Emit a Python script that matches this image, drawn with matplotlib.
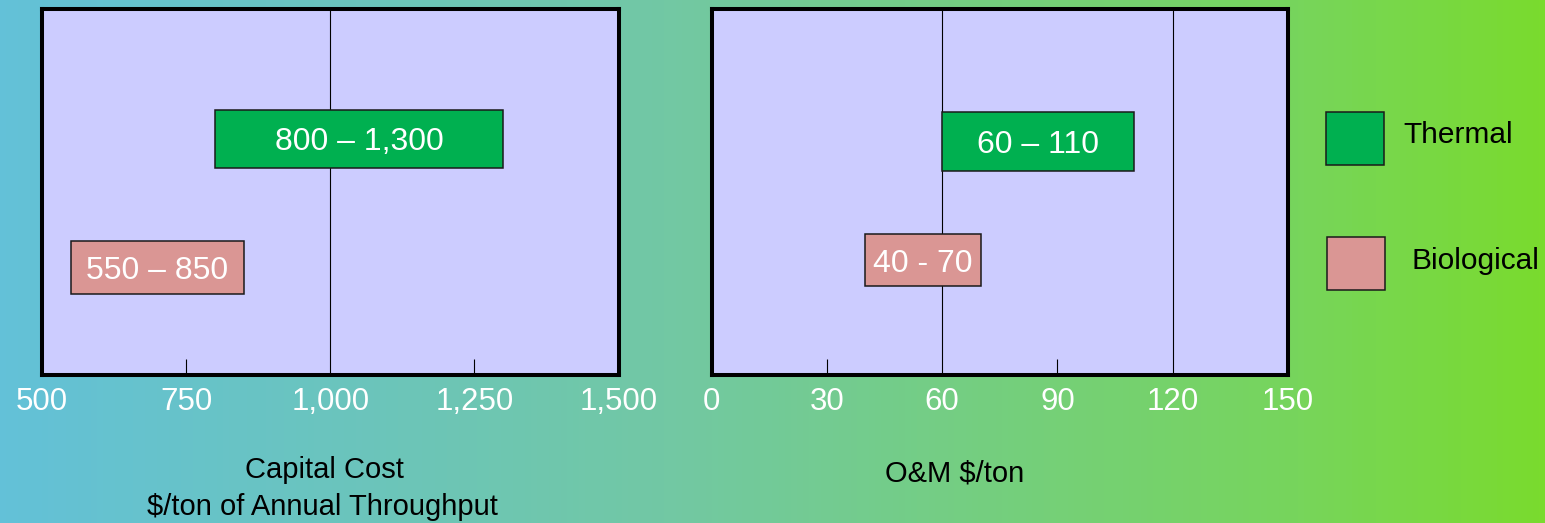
import numpy as np
import matplotlib
matplotlib.use("Agg")
import matplotlib.pyplot as plt
from matplotlib.colors import LinearSegmentedColormap
from matplotlib.patches import Rectangle

plt.rcParams["font.family"] = ["Liberation Sans", "DejaVu Sans"]

# ---- data ----
series = ["Thermal", "Biological"]
capital_low = [800, 550]
capital_high = [1300, 850]
capital_labels = ["800 – 1,300", "550 – 850"]
om_low = [60, 40]
om_high = [110, 70]
om_labels = ["60 – 110", "40 - 70"]

capital_ticks = [500, 750, 1000, 1250, 1500]
capital_ticklabels = ["500", "750", "1,000", "1,250", "1,500"]
om_ticks = [0, 30, 60, 90, 120, 150]
om_ticklabels = ["0", "30", "60", "90", "120", "150"]

capital_gridlines = [1000]
capital_minor = [750, 1250]
om_gridlines = [60, 120]
om_minor = [30, 90]

series_colors = ["#00B050", "#DA9694"]
panel_color = "#CCCCFF"

# ---- figure ----
W, H = 1545, 523
DPI = 100
fig = plt.figure(figsize=(W / DPI, H / DPI), dpi=DPI)


def px_rect(x0, y0, x1, y1):
    """Figure-fraction rectangle from pixel corners (top-left origin)."""
    return [x0 / W, 1 - y1 / H, (x1 - x0) / W, (y1 - y0) / H]


# horizontal gradient backdrop
bg = fig.add_axes([0, 0, 1, 1], zorder=-10)
grad_cmap = LinearSegmentedColormap.from_list(
    "backdrop",
    [(0.0, (99 / 255, 193 / 255, 216 / 255)),
     (0.43, (114 / 255, 200 / 255, 164 / 255)),
     (0.84, (119 / 255, 213 / 255, 92 / 255)),
     (1.0, (122 / 255, 219 / 255, 46 / 255))])
bg.imshow(np.linspace(0, 1, 512)[None, :], cmap=grad_cmap, aspect="auto",
          extent=[0, 1, 0, 1])
bg.set_axis_off()


def draw_panel(rect, low, high, labels, ticks, ticklabels, xlim,
               gridlines, minor, ypos, heights):
    ax = fig.add_axes(rect)
    ax.set_facecolor(panel_color)
    ax.set_xlim(*xlim)
    ax.set_ylim(0, 1)
    for g in gridlines:
        ax.axvline(g, color="black", lw=0.8, zorder=1)
    widths = [h - l for l, h in zip(low, high)]
    ax.barh(ypos, widths, left=low, height=heights, color=series_colors,
            edgecolor="#1a1a1a", linewidth=1.1, zorder=2)
    for l, h, y, txt in zip(low, high, ypos, labels):
        ax.text((l + h) / 2, y, txt, ha="center", va="center_baseline",
                color="white", fontsize=23, zorder=3)
    ax.xaxis.remove_overlapping_locs = False
    ax.set_xticks(ticks)
    ax.set_xticklabels(ticklabels)
    ax.set_xticks(minor, minor=True)
    ax.set_yticks([])
    ax.tick_params(axis="x", which="major", length=0, pad=9,
                   labelsize=22.5, labelcolor="white")
    ax.tick_params(axis="x", which="minor", direction="in", length=11.5,
                   width=0.8, color="black", labelbottom=False)
    for s in ax.spines.values():
        s.set_linewidth(2.9)
        s.set_color("black")
    return ax


ax1 = draw_panel(px_rect(42, 9, 618.5, 375), capital_low, capital_high,
                 capital_labels, capital_ticks, capital_ticklabels,
                 (500, 1500), capital_gridlines, capital_minor,
                 [0.645, 0.294], [0.158, 0.145])
ax2 = draw_panel(px_rect(711.5, 9, 1288, 375), om_low, om_high,
                 om_labels, om_ticks, om_ticklabels,
                 (0, 150), om_gridlines, om_minor,
                 [0.638, 0.314], [0.16, 0.143])

# axis titles
fig.text(324 / W, 1 - 470 / H, "Capital Cost", ha="center", va="center",
         fontsize=21, color="black")
fig.text(322 / W, 1 - 507 / H, "$/ton of Annual Throughput", ha="center",
         va="center", fontsize=21, color="black")
fig.text(955 / W, 1 - 473 / H, "O&M $/ton", ha="center", va="center",
         fontsize=21, color="black")

# legend swatches
legend_boxes = [(1326, 112, 1384, 165), (1327, 237, 1385, 290)]
legend_text_pos = [(1403, 135), (1412, 261)]
for (x0, y0, x1, y1), color, (tx, ty), name in zip(
        legend_boxes, series_colors, legend_text_pos, series):
    fig.add_artist(Rectangle((x0 / W, 1 - y1 / H), (x1 - x0) / W,
                             (y1 - y0) / H, transform=fig.transFigure,
                             facecolor=color, edgecolor="#1a1a1a",
                             linewidth=1.1))
    fig.text(tx / W, 1 - ty / H, name, ha="left", va="center",
             fontsize=21.5, color="black")

fig.savefig("out.png", dpi=DPI)
